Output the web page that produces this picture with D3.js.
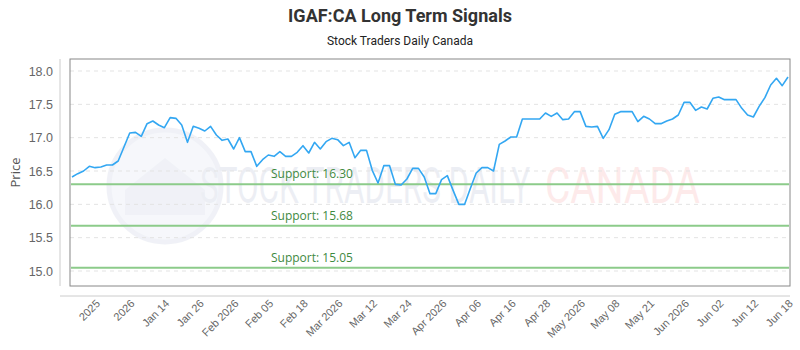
<!DOCTYPE html>
<html>
<head>
<meta charset="utf-8">
<script src="https://cdn.jsdelivr.net/npm/d3@7"></script>
<style>
  body { margin: 0; background: #fff; }
  svg { display: block; font-family: "Open Sans", "Noto Sans", sans-serif; }
</style>
</head>
<body>
<div id="chart"></div>
<script>
;(function () {
  // DATA
  const chartTitle = "IGAF:CA Long Term Signals"
  const chartSubtitle = "Stock Traders Daily Canada"
  const yLabel = "Price"

  const prices = [
    16.41, 16.46, 16.50, 16.57, 16.55, 16.56, 16.59, 16.59, 16.65, 16.86,
    17.07, 17.08, 17.02, 17.21, 17.25, 17.19, 17.15, 17.30, 17.29, 17.19,
    16.93, 17.17, 17.14, 17.10, 17.17, 17.04, 16.96, 16.98, 16.83, 17.00,
    16.79, 16.79, 16.57, 16.67, 16.74, 16.72, 16.79, 16.72, 16.72, 16.78,
    16.88, 16.77, 16.93, 16.83, 16.94, 16.99, 16.97, 16.88, 16.93, 16.70,
    16.81, 16.81, 16.51, 16.32, 16.58, 16.58, 16.30, 16.29, 16.38, 16.54,
    16.54, 16.41, 16.16, 16.16, 16.37, 16.43, 16.21, 16.00, 16.00, 16.24,
    16.47, 16.55, 16.55, 16.50, 16.90, 16.95, 17.01, 17.01, 17.28, 17.28,
    17.28, 17.28, 17.37, 17.32, 17.37, 17.27, 17.28, 17.39, 17.39, 17.17,
    17.16, 17.17, 16.99, 17.12, 17.35, 17.39, 17.39, 17.39, 17.24, 17.32,
    17.28, 17.21, 17.21, 17.25, 17.28, 17.34, 17.53, 17.53, 17.41, 17.46,
    17.43, 17.59, 17.61, 17.57, 17.57, 17.57, 17.44, 17.34, 17.31, 17.47,
    17.60, 17.79, 17.89, 17.78, 17.91
  ]

  const tickLabels = [
    "2025", "2026", "Jan 14", "Jan 26", "Feb 2026", "Feb 05", "Feb 18",
    "Mar 2026", "Mar 12", "Mar 24", "Apr 2026", "Apr 06", "Apr 16", "Apr 28",
    "May 2026", "May 08", "May 21", "Jun 2026", "Jun 02", "Jun 12", "Jun 18"
  ]
  const tickStart = 4   // first labelled point
  const tickEvery = 6   // label every n-th point

  const yTicks = [15.0, 15.5, 16.0, 16.5, 17.0, 17.5, 18.0]
  const supportLevels = [16.30, 15.68, 15.05]

  // LAYOUT
  const width = 800
  const height = 350
  const plot = { left: 70, right: 790, top: 59, bottom: 286 }

  const svg = d3
    .select("#chart")
    .append("svg")
    .attr("width", width)
    .attr("height", height)

  // Scales
  const xScale = d3
    .scaleLinear()
    .domain([0, prices.length - 1])
    .range([plot.left + 2, plot.right - 2])

  const yScale = d3
    .scaleLinear()
    .domain([15, 18])
    .range([plot.bottom - 15, plot.top + 12])

  // Title
  svg
    .append("text")
    .attr("x", width / 2)
    .attr("y", 22)
    .attr("text-anchor", "middle")
    .style("font-family", "'Liberation Sans Narrow', Roboto, sans-serif")
    .style("font-size", "18px")
    .style("font-weight", "bold")
    .style("fill", "#333")
    .text(chartTitle)

  svg
    .append("text")
    .attr("x", width / 2)
    .attr("y", 45)
    .attr("text-anchor", "middle")
    .style("font-family", "'Liberation Sans Narrow', Roboto, sans-serif")
    .style("font-size", "12px")
    .style("fill", "#222")
    .text(chartSubtitle)

  // Watermark
  const wm = svg.append("g").attr("opacity", 0.12)
  wm.append("circle")
    .attr("cx", 165)
    .attr("cy", 186)
    .attr("r", 56)
    .attr("fill", "#b9c6e4")
    .attr("stroke", "#8796c0")
    .attr("stroke-width", 5)
  wm.append("path")
    .attr("d", "M125,215 L125,190 L165,158 L205,190 L205,215 Z")
    .attr("fill", "#8796c0")
  wm.append("text")
    .attr("x", 200)
    .attr("y", 203)
    .attr("textLength", 330)
    .attr("lengthAdjust", "spacingAndGlyphs")
    .style("font-family", "'Liberation Sans Narrow', Roboto, sans-serif")
    .style("font-size", "50px")
    .style("fill", "#6d7ea8")
    .text("STOCK TRADERS DAILY")
  wm.append("text")
    .attr("x", 545)
    .attr("y", 203)
    .attr("textLength", 155)
    .attr("lengthAdjust", "spacingAndGlyphs")
    .style("font-family", "'Liberation Sans Narrow', Roboto, sans-serif")
    .style("font-size", "50px")
    .style("fill", "#f05a5a")
    .text("CANADA")

  // Gridlines
  svg
    .append("g")
    .selectAll("line")
    .data(yTicks)
    .join("line")
    .attr("x1", plot.left)
    .attr("x2", plot.right)
    .attr("y1", d => yScale(d))
    .attr("y2", d => yScale(d))
    .attr("stroke", "#e3e3e3")
    .attr("stroke-dasharray", "4,4")

  // Y axis
  const yAxis = svg
    .append("g")
    .attr("transform", `translate(60,0)`)
    .call(d3.axisLeft(yScale).tickValues(yTicks).tickFormat(d3.format(".1f")).tickSize(0).tickPadding(7))
  yAxis.select(".domain").attr("stroke", "#ccc").attr("d", `M0,${plot.top}V${plot.bottom}`)
  yAxis.selectAll("text").style("font-size", "12.5px").style("fill", "#666")

  svg
    .append("text")
    .attr("transform", `translate(20,${(plot.top + plot.bottom) / 2}) rotate(-90)`)
    .attr("text-anchor", "middle")
    .style("font-size", "13px")
    .style("fill", "#555")
    .text(yLabel)

  // X axis
  const tickValues = d3.range(tickStart, prices.length, tickEvery)
  const xAxis = svg
    .append("g")
    .attr("transform", `translate(0,296)`)
    .call(d3.axisBottom(xScale)
      .tickValues(tickValues)
      .tickFormat((d, i) => tickLabels[i])
      .tickSize(0)
      .tickPadding(4))
  xAxis.select(".domain").attr("stroke", "#ccc").attr("d", `M60,0H${plot.right}`)
  xAxis
    .selectAll("text")
    .attr("text-anchor", "end")
    .attr("dx", "-0.2em")
    .attr("dy", "0.5em")
    .attr("transform", "rotate(-45)")
    .style("font-size", "11px")
    .style("fill", "#666")

  // Plot frame
  svg
    .append("rect")
    .attr("x", plot.left)
    .attr("y", plot.top)
    .attr("width", plot.right - plot.left)
    .attr("height", plot.bottom - plot.top)
    .attr("fill", "none")
    .attr("stroke", "#888")

  // Support lines
  svg
    .append("g")
    .selectAll("line")
    .data(supportLevels)
    .join("line")
    .attr("x1", plot.left + 1)
    .attr("x2", plot.right - 1)
    .attr("y1", d => yScale(d))
    .attr("y2", d => yScale(d))
    .attr("stroke", "#8ccb8a")
    .attr("stroke-width", 2)

  svg
    .append("g")
    .selectAll("text")
    .data(supportLevels)
    .join("text")
    .attr("x", plot.left + 201)
    .attr("y", d => yScale(d) - 6)
    .style("font-size", "12px")
    .style("fill", "#3f8a3f")
    .text(d => `Support: ${d.toFixed(2)}`)

  // Price line
  const line = d3
    .line()
    .x((d, i) => xScale(i))
    .y(d => yScale(d))

  svg
    .append("path")
    .datum(prices)
    .attr("d", line)
    .attr("fill", "none")
    .attr("stroke", "#33a7f2")
    .attr("stroke-width", 1.6)
    .attr("stroke-linejoin", "round")
})()
</script>
</body>
</html>
